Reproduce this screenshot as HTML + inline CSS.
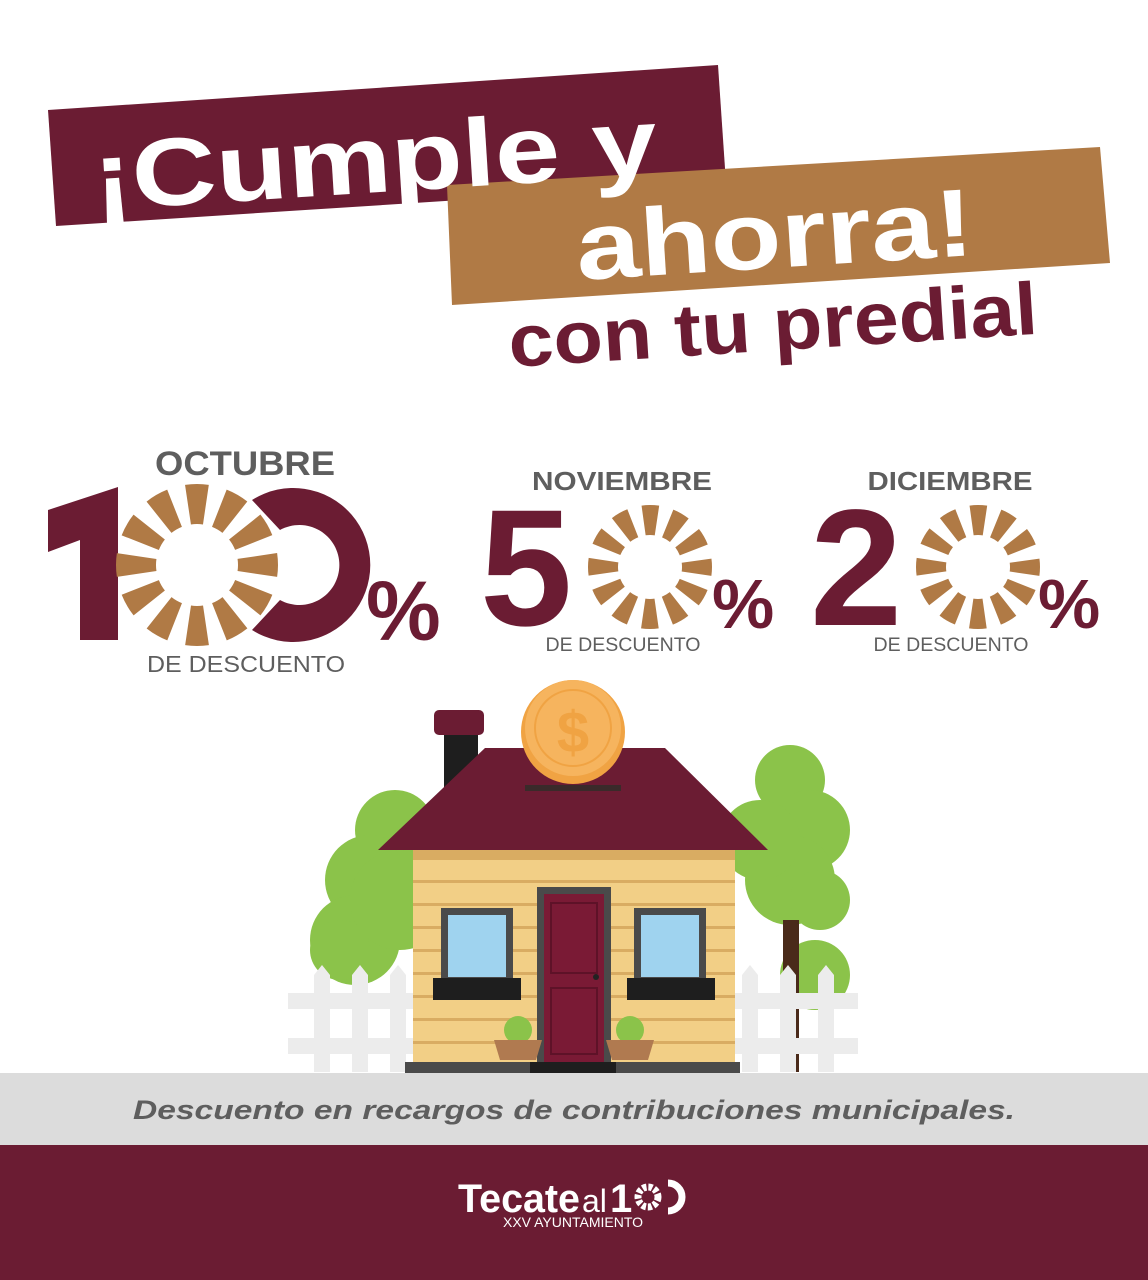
<!DOCTYPE html>
<html><head><meta charset="utf-8"><style>
html,body{margin:0;padding:0;background:#fff}
svg{display:block}
text{font-family:"Liberation Sans","DejaVu Sans",sans-serif}
</style></head><body>
<svg width="1148" height="1280" viewBox="0 0 1148 1280" xmlns="http://www.w3.org/2000/svg">
<rect width="1148" height="1280" fill="#fff"/>
<!-- banners -->
<polygon points="48,110 718,65 726,183 56,226" fill="#6b1c33"/>
<polygon points="447,185 1100,147 1110,263 452,305" fill="#b07a45"/>
<text x="95" y="210" transform="rotate(-3.6 95 210)" font-size="96" font-weight="bold" fill="#fff" textLength="565" lengthAdjust="spacingAndGlyphs">¡Cumple y</text>
<text x="578" y="280" transform="rotate(-3.6 578 280)" font-size="96" font-weight="bold" fill="#fff" textLength="398" lengthAdjust="spacingAndGlyphs">ahorra!</text>
<text x="510" y="367" transform="rotate(-3.6 510 367)" font-size="74" font-weight="bold" fill="#6b1c33" textLength="530" lengthAdjust="spacingAndGlyphs">con tu predial</text>

<!-- labels -->
<g font-weight="bold" fill="#5e5e5e" text-anchor="middle">
<text x="245" y="475" font-size="34" textLength="180" lengthAdjust="spacingAndGlyphs">OCTUBRE</text>
<text x="622" y="490" font-size="26" textLength="180" lengthAdjust="spacingAndGlyphs">NOVIEMBRE</text>
<text x="950" y="490" font-size="26" textLength="165" lengthAdjust="spacingAndGlyphs">DICIEMBRE</text>
</g>
<g fill="#5e5e5e" text-anchor="middle">
<text x="246" y="672" font-size="23" textLength="198" lengthAdjust="spacingAndGlyphs">DE DESCUENTO</text>
<text x="623" y="651" font-size="19" textLength="155" lengthAdjust="spacingAndGlyphs">DE DESCUENTO</text>
<text x="951" y="651" font-size="19" textLength="155" lengthAdjust="spacingAndGlyphs">DE DESCUENTO</text>
</g>

<!-- 100 -->
<polygon points="48,510 118,487 118,640 80,640 80,540 48,552" fill="#6b1c33"/>
<circle cx="197" cy="565" r="61" fill="none" stroke="#b07a45" stroke-width="40" stroke-dasharray="18 13.92" stroke-dashoffset="9"/>
<path d="M262,500 A77,77 0 1 1 262,630 L290,600 A40,40 0 1 0 290,530 Z" fill="#6b1c33" transform="translate(-10,0)"/>
<text x="366" y="640" font-size="84" font-weight="bold" fill="#6b1c33">%</text>

<!-- 50 -->
<text x="480" y="625" font-size="166" font-weight="bold" fill="#6b1c33">5</text>
<circle cx="650" cy="567" r="47" fill="none" stroke="#b07a45" stroke-width="30" stroke-dasharray="13.5 11.1" stroke-dashoffset="6.75"/>
<text x="712" y="628" font-size="70" font-weight="bold" fill="#6b1c33">%</text>

<!-- 20 -->
<text x="810" y="625" font-size="166" font-weight="bold" fill="#6b1c33">2</text>
<circle cx="978" cy="567" r="47" fill="none" stroke="#b07a45" stroke-width="30" stroke-dasharray="13.5 11.1" stroke-dashoffset="6.75"/>
<text x="1038" y="628" font-size="70" font-weight="bold" fill="#6b1c33">%</text>

<!-- trees -->
<g fill="#8bc34a">
<circle cx="395" cy="830" r="40"/><circle cx="370" cy="880" r="45"/><circle cx="355" cy="940" r="45"/><circle cx="400" cy="900" r="50"/><circle cx="340" cy="950" r="30"/>
<circle cx="790" cy="780" r="35"/><circle cx="810" cy="830" r="40"/><circle cx="790" cy="880" r="45"/><circle cx="760" cy="840" r="40"/><circle cx="820" cy="900" r="30"/>
<circle cx="815" cy="975" r="35"/>
</g>
<rect x="783" y="920" width="16" height="152" fill="#4a2a1a"/>
<!-- fences -->
<g fill="#ececec">
<rect x="288" y="993" width="125" height="16"/><rect x="288" y="1038" width="125" height="16"/>
<rect x="735" y="993" width="123" height="16"/><rect x="735" y="1038" width="123" height="16"/>
<polygon points="314,975 322,965 330,975 330,1072 314,1072"/>
<polygon points="352,975 360,965 368,975 368,1072 352,1072"/>
<polygon points="390,975 398,965 406,975 406,1072 390,1072"/>
<polygon points="742,975 750,965 758,975 758,1072 742,1072"/>
<polygon points="780,975 788,965 796,975 796,1072 780,1072"/>
<polygon points="818,975 826,965 834,975 834,1072 818,1072"/>
</g>
<!-- chimney -->
<rect x="444" y="730" width="34" height="60" fill="#1e1e1e"/>
<rect x="434" y="710" width="50" height="25" rx="5" fill="#6b1c33"/>
<!-- house body -->
<rect x="413" y="850" width="322" height="212" fill="#f2cf86"/>
<g fill="#d9ac62">
<rect x="413" y="850" width="322" height="10"/>
<rect x="413" y="880" width="322" height="3"/><rect x="413" y="903" width="322" height="3"/><rect x="413" y="926" width="322" height="3"/><rect x="413" y="949" width="322" height="3"/><rect x="413" y="972" width="322" height="3"/><rect x="413" y="995" width="322" height="3"/><rect x="413" y="1018" width="322" height="3"/><rect x="413" y="1041" width="322" height="3"/>
</g>
<!-- roof -->
<polygon points="378,850 485,748 665,748 768,850" fill="#6b1c33"/>
<rect x="525" y="785" width="96" height="6" fill="#3a2a2a"/>
<!-- coin -->
<circle cx="573" cy="732" r="52" fill="#f0a343"/>
<circle cx="573" cy="728" r="48" fill="#f6b45e"/>
<circle cx="573" cy="728" r="38" fill="none" stroke="#f0a343" stroke-width="2"/>
<text x="573" y="752" font-size="58" font-weight="bold" fill="#f0a343" text-anchor="middle">$</text>
<!-- door -->
<rect x="537" y="887" width="74" height="175" fill="#4a4a4a"/>
<rect x="544" y="894" width="60" height="168" fill="#7a1a35"/>
<rect x="551" y="903" width="46" height="70" fill="none" stroke="#5e1228" stroke-width="2"/>
<rect x="551" y="988" width="46" height="66" fill="none" stroke="#5e1228" stroke-width="2"/>
<circle cx="596" cy="977" r="3" fill="#222"/>
<!-- windows -->
<rect x="441" y="908" width="72" height="72" fill="#4a4a4a"/><rect x="448" y="915" width="58" height="62" fill="#9fd3ef"/>
<rect x="634" y="908" width="72" height="72" fill="#4a4a4a"/><rect x="641" y="915" width="58" height="62" fill="#9fd3ef"/>
<rect x="433" y="978" width="88" height="22" fill="#1e1e1e"/>
<rect x="627" y="978" width="88" height="22" fill="#1e1e1e"/>
<!-- plants -->
<circle cx="518" cy="1030" r="14" fill="#8bc34a"/><circle cx="630" cy="1030" r="14" fill="#8bc34a"/>
<polygon points="494,1040 542,1040 536,1060 500,1060" fill="#b07a50"/>
<polygon points="606,1040 654,1040 648,1060 612,1060" fill="#b07a50"/>
<!-- base -->
<rect x="405" y="1062" width="335" height="11" fill="#4a4a4a"/>
<rect x="530" y="1062" width="86" height="11" fill="#1e1e1e"/>
<!-- ground -->
<rect x="0" y="1073" width="1148" height="72" fill="#dcdcdc"/>
<text x="133" y="1119" font-size="27" font-weight="bold" font-style="italic" fill="#5e5e5e" textLength="882" lengthAdjust="spacingAndGlyphs">Descuento en recargos de contribuciones municipales.</text>
<!-- footer -->
<rect x="0" y="1145" width="1148" height="135" fill="#6b1c33"/>
<text x="458" y="1212" font-size="40" font-weight="bold" fill="#fff" textLength="122" lengthAdjust="spacingAndGlyphs">Tecate</text>
<text x="582" y="1212" font-size="32" fill="#fff">al</text>
<text x="610" y="1212" font-size="40" font-weight="bold" fill="#fff">1</text>
<circle cx="648" cy="1197" r="10" fill="none" stroke="#fff" stroke-width="7" stroke-dasharray="4 1.9"/>
<path d="M668,1183 A14,14 0 1 1 668,1211" fill="none" stroke="#fff" stroke-width="7"/>
<text x="573" y="1227" font-size="14" fill="#fff" text-anchor="middle">XXV AYUNTAMIENTO</text>
</svg>
</body></html>
